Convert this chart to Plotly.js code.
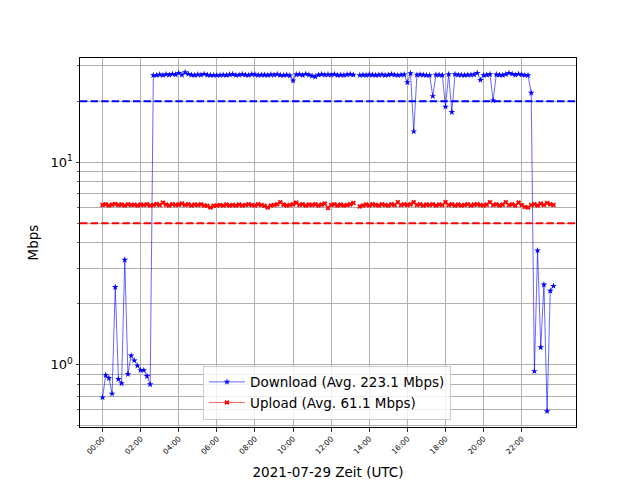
<!DOCTYPE html>
<html>
<head>
<meta charset="utf-8">
<script src="https://cdn.plot.ly/plotly-3.0.1.min.js"></script>
<style>
html, body { margin: 0; padding: 0; background: #fff; }
#chart { width: 640px; height: 480px; }
</style>
</head>
<body>
<div id="chart"></div>
<script>
const dateStr = "2021-07-29";
const times = [
"00:00","00:10","00:20","00:30","00:40","00:50",
"01:00","01:10","01:20","01:30","01:40","01:50",
"02:00","02:10","02:20","02:30","02:40","02:50",
"03:00","03:10","03:20","03:30","03:40","03:50",
"04:00","04:10","04:20","04:30","04:40","04:50",
"05:00","05:10","05:20","05:30","05:40","05:50",
"06:00","06:10","06:20","06:30","06:40","06:50",
"07:00","07:10","07:20","07:30","07:40","07:50",
"08:00","08:10","08:20","08:30","08:40","08:50",
"09:00","09:10","09:20","09:30","09:40","09:50",
"10:00","10:10","10:20","10:30","10:40","10:50",
"11:00","11:10","11:20","11:30","11:40","11:50",
"12:00","12:10","12:20","12:30","12:40","12:50",
"13:00","13:10","13:20","13:30","13:40","13:50",
"14:00","14:10","14:20","14:30","14:40","14:50",
"15:00","15:10","15:20","15:30","15:40","15:50",
"16:00","16:10","16:20","16:30","16:40","16:50",
"17:00","17:10","17:20","17:30","17:40","17:50",
"18:00","18:10","18:20","18:30","18:40","18:50",
"19:00","19:10","19:20","19:30","19:40","19:50",
"20:00","20:10","20:20","20:30","20:40","20:50",
"21:00","21:10","21:20","21:30","21:40","21:50",
"22:00","22:10","22:20","22:30","22:40","22:50",
"23:00","23:10","23:20","23:30","23:40"
];
const download = [
0.69,0.89,0.86,0.72,2.42,0.85,
0.81,3.30,0.90,1.11,1.05,0.99,
0.94,0.94,0.88,0.80,26.9,26.9,
27.1,26.9,27.2,27.0,27.3,27.1,
27.6,27.0,27.8,27.3,27.0,26.9,
27.1,27.0,27.3,27.0,26.9,26.9,
26.9,26.9,27.0,26.9,27.1,27.2,
26.9,27.0,27.2,27.0,26.9,27.2,
27.1,26.9,27.0,27.0,26.9,27.1,
27.0,27.2,26.9,26.9,27.0,26.8,
25.3,27.1,27.2,26.9,27.3,27.0,
26.7,26.5,27.0,27.2,27.0,27.1,
27.0,27.2,26.9,27.0,26.9,27.1,
27.2,27.0,null,26.9,27.0,26.9,
27.1,27.0,26.9,27.0,27.1,26.9,
27.0,27.2,27.0,26.9,27.0,27.1,
24.8,27.5,14.2,27.0,27.1,27.0,
26.9,26.9,21.2,27.0,27.0,26.9,
18.8,27.2,17.7,27.2,27.0,27.0,
26.9,27.0,27.0,27.1,27.6,25.5,
26.9,27.0,27.2,20.2,27.1,27.0,
26.9,27.2,27.6,27.3,27.0,27.3,
27.1,26.9,26.9,22.0,0.93,3.67,
1.22,2.49,0.59,2.32,2.45
];
const upload = [
6.15,6.20,6.12,6.18,6.22,6.15,
6.18,6.12,6.20,6.15,6.17,6.12,
6.18,6.15,6.20,6.12,6.15,6.22,
6.15,6.32,6.18,6.12,6.20,6.15,
6.18,6.25,6.15,6.20,6.12,6.18,
6.15,6.20,6.12,6.10,5.98,6.10,
6.12,6.15,6.12,6.18,6.12,6.15,
6.12,6.18,6.12,6.15,6.20,6.15,
6.12,6.20,6.15,6.10,5.98,6.12,
6.15,6.20,6.35,6.18,6.12,6.15,
6.20,6.32,6.15,6.20,6.12,6.18,
6.15,6.20,6.12,6.18,6.25,5.95,
6.15,6.20,6.12,6.18,6.12,6.15,
6.20,6.30,null,6.05,6.12,6.18,
6.12,6.20,6.15,6.12,6.20,6.15,
6.12,6.20,6.15,6.35,6.15,6.20,
6.15,6.20,6.35,6.15,6.20,6.12,
6.18,6.15,6.20,6.12,6.18,6.15,
6.35,6.15,6.20,6.12,6.18,6.12,
6.15,6.20,6.12,6.18,6.20,6.15,
6.12,6.18,6.35,6.15,6.20,6.12,
6.18,6.35,6.15,6.20,6.12,6.32,
6.15,6.02,5.98,6.15,6.20,6.12,
6.25,6.15,6.30,6.20,6.15
];
const downloadLabel = "Download (Avg. 223.1 Mbps)";
const uploadLabel = "Upload (Avg. 61.1 Mbps)";
const downloadLimit = 20;
const uploadLimit = 5;
const xTickLabels = ["00:00","02:00","04:00","06:00","08:00","10:00","12:00","14:00","16:00","18:00","20:00","22:00"];
const yMajorVals = [1, 10];
const yMajorText = ["10<sup>0</sup>", "10<sup>1</sup>"];
const yMinorVals = [0.5,0.6,0.7,0.8,0.9,2,3,4,5,6,7,8,9,20,30];

const x = times.map(t => dateStr + " " + t);
const font = "DejaVu Sans, Liberation Sans, sans-serif";

const traces = [
  {
    x: x, y: download, name: downloadLabel, type: "scatter", mode: "lines+markers",
    line: {color: "blue", width: 0.6}, connectgaps: false,
    marker: {symbol: "star", size: 5, color: "blue", line: {width: 0}}
  },
  {
    x: x, y: upload, name: uploadLabel, type: "scatter", mode: "lines+markers",
    line: {color: "red", width: 0.6}, connectgaps: false,
    marker: {symbol: "x", size: 4.5, color: "red", line: {width: 0}}
  }
];

const layout = {
  width: 640, height: 480,
  margin: {l: 80, r: 64, t: 58, b: 53},
  paper_bgcolor: "#fff", plot_bgcolor: "#fff",
  font: {family: font, color: "#000", size: 13},
  showlegend: true,
  legend: {
    x: 0.248, y: 0.02, xanchor: "left", yanchor: "bottom",
    bgcolor: "rgba(255,255,255,0.8)", bordercolor: "#cccccc", borderwidth: 1,
    font: {family: font, size: 13.5, color: "#000"},
    tracegroupgap: 0, itemwidth: 36
  },
  xaxis: {
    type: "date",
    range: ["2021-07-28 22:49", "2021-07-30 00:51"],
    tickmode: "array",
    tickvals: xTickLabels.map(t => dateStr + " " + t),
    ticktext: xTickLabels,
    tickangle: -45,
    tickfont: {size: 7.5, family: font},
    ticks: "outside", ticklen: 3.5, tickcolor: "#000", tickwidth: 0.8,
    showgrid: true, gridcolor: "#b0b0b0", gridwidth: 1,
    showline: true, linecolor: "#000", linewidth: 1, mirror: true,
    zeroline: false,
    title: {text: "2021-07-29 Zeit (UTC)", font: {size: 13.5, family: font}, standoff: 13}
  },
  yaxis: {
    type: "log",
    range: [-0.307, 1.515],
    tickmode: "array",
    tickvals: yMajorVals,
    ticktext: yMajorText,
    tickfont: {size: 13, family: font},
    ticks: "outside", ticklen: 3.5, tickcolor: "#000", tickwidth: 0.8,
    showgrid: true, gridcolor: "#b0b0b0", gridwidth: 1,
    minor: {
      tickmode: "array", tickvals: yMinorVals,
      ticks: "outside", ticklen: 2, tickcolor: "#000", tickwidth: 0.6,
      showgrid: true, gridcolor: "#b0b0b0", gridwidth: 1
    },
    showline: true, linecolor: "#000", linewidth: 1, mirror: true,
    zeroline: false,
    title: {text: "Mbps", font: {size: 13.5, family: font}, standoff: 8}
  },
  shapes: [
    {type: "line", xref: "paper", x0: 0, x1: 1, yref: "y", y0: downloadLimit, y1: downloadLimit,
     line: {color: "blue", width: 2, dash: "7.4px,3.2px"}},
    {type: "line", xref: "paper", x0: 0, x1: 1, yref: "y", y0: uploadLimit, y1: uploadLimit,
     line: {color: "red", width: 2, dash: "7.4px,3.2px"}}
  ]
};

Plotly.newPlot("chart", traces, layout, {staticPlot: true, displayModeBar: false});
</script>
</body>
</html>
